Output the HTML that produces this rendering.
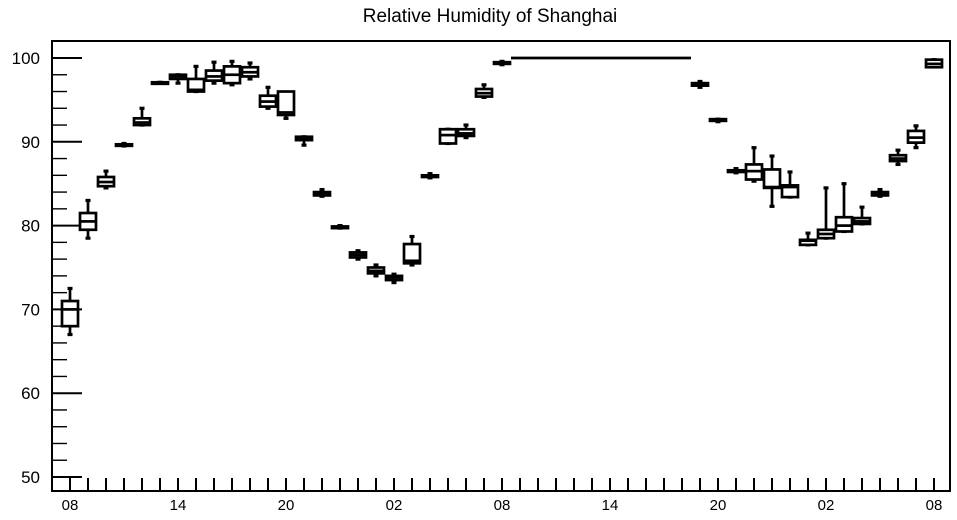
<!DOCTYPE html>
<html><head><meta charset="utf-8"><style>
html,body{margin:0;padding:0;background:#fff;width:957px;height:520px;overflow:hidden}
svg{display:block;font-family:"Liberation Sans",Arial,sans-serif}
</style></head><body>
<svg id="chart" width="957" height="520" viewBox="0 0 957 520">
<text x="490" y="22" font-size="19" text-anchor="middle">Relative Humidity of Shanghai</text>
<g id="axes"></g><g id="marks"></g>
<rect x="52" y="41" width="898" height="450" fill="none" stroke="#000" stroke-width="2"/>
</svg>
<script>
const hourLabels = ["08","14","20","02","08","14","20","02","08"];
const yTicks = [50,60,70,80,90,100];
const hours = [0,1,2,3,4,5,6,7,8,9,10,11,12,13,14,15,16,17,18,19,20,21,22,23,24,25,26,27,28,29,30,31,32,33,34,35,36,37,38,39,40,41,42,43,44,45,46,47,48];
const wLow  = [67,78.5,84.5,89.5,92,97,97,96,97,96.8,97.5,94,92.8,89.6,83.5,79.7,76,74,73.2,75.3,85.7,89.8,90.5,95.3,99.2,100,100,100,100,100,100,100,100,100,100,96.5,92.4,86.3,85.3,82.3,83.4,77.7,78.5,79.3,80.2,83.5,87.3,89.3,99];
const q1    = [68,79.5,84.7,89.55,92,97,97.5,96,97.3,97,97.8,94.2,93.2,90.2,83.6,79.7,76.2,74.3,73.5,75.5,85.8,89.8,90.7,95.4,99.3,100,100,100,100,100,100,100,100,100,100,96.7,92.5,86.4,85.5,84.5,83.4,77.7,78.5,79.3,80.2,83.6,87.7,89.9,98.9];
const med   = [70,80.5,85.2,89.6,92.3,97,97.8,96.2,97.8,98,98.3,94.8,93.5,90.4,83.8,79.8,76.5,74.6,73.8,75.8,85.9,90.8,91,95.8,99.4,100,100,100,100,100,100,100,100,100,100,96.8,92.6,86.5,86.5,84.6,84.6,78.2,79,80,80.5,83.8,88,90.5,99.3];
const q3    = [71,81.5,85.8,89.7,92.8,97.1,98,97.5,98.5,99,98.9,95.5,96,90.6,84,79.9,76.8,75,74,77.8,86,91.5,91.5,96.3,99.5,100,100,100,100,100,100,100,100,100,100,97,92.7,86.6,87.3,86.7,84.8,78.3,79.5,81,80.9,84,88.4,91.3,99.8];
const wHigh = [72.5,83,86.5,89.8,94,97.1,98,99,99.5,99.6,99.4,96.5,95.7,90.6,84.3,80,77,75.3,74.2,78.7,86.2,91.5,92,96.8,99.6,100,100,100,100,100,100,100,100,100,100,97.2,92.7,86.8,89.3,88.3,86.4,79.1,84.5,85,82.2,84.3,89,91.9,99.8];

const X0=70, XS=18, Y50=477, YS=8.38;
const xs = h => X0 + h*XS;
const ys = v => Y50 - (v-50)*YS;
const NS="http://www.w3.org/2000/svg";
function mk(parent,tag,attrs){const e=document.createElementNS(NS,tag);for(const k in attrs)e.setAttribute(k,attrs[k]);parent.appendChild(e);return e;}
const axes=document.getElementById('axes'), marks=document.getElementById('marks');

for(let v=50; v<=102; v+=2){
  const major = v%10===0;
  const t=mk(axes,'line',{x1:52,x2:major?82:67,y1:ys(v),y2:ys(v),stroke:'#000','stroke-width':major?2:1.4});
  
  
}
yTicks.forEach(v=>{
  const t=mk(axes,'text',{x:40,y:ys(v)+6,'font-size':17,'text-anchor':'end'});
  t.textContent=v;
  
  
});
for(let h=0; h<=48; h++){
  const t=mk(axes,'line',{x1:xs(h),x2:xs(h),y1:491,y2:478,stroke:'#000','stroke-width':2});
  
  
}
hourLabels.forEach((s,i)=>{
  const t=mk(axes,'text',{x:xs(i*6),y:510,'font-size':15,'text-anchor':'middle'});
  t.textContent=s;
  
  
});

hours.forEach((h,i)=>{
  const g=mk(marks,'g',{stroke:'#000','stroke-width':2.7,fill:'none'});
  
  
  const cx=xs(h), hw=8;
  if(wHigh[i]-wLow[i] < 0.05){
    mk(g,'line',{x1:cx-hw-1,x2:cx+hw+1,y1:ys(med[i]),y2:ys(med[i]),'stroke-width':2.8});
    return;
  }
  mk(g,'line',{x1:cx,x2:cx,y1:ys(wHigh[i]),y2:ys(q3[i])});
  mk(g,'line',{x1:cx,x2:cx,y1:ys(q1[i]),y2:ys(wLow[i])});
  mk(g,'line',{x1:cx-2.5,x2:cx+2.5,y1:ys(wHigh[i]),y2:ys(wHigh[i]),'stroke-width':3.2});
  mk(g,'line',{x1:cx-2.5,x2:cx+2.5,y1:ys(wLow[i]),y2:ys(wLow[i]),'stroke-width':3.2});
  const top=ys(q3[i]), bot=ys(q1[i]);
  mk(g,'rect',{x:cx-hw,y:top,width:hw*2,height:Math.max(bot-top,1.5),fill:'#fff'});
  mk(g,'line',{x1:cx-hw,x2:cx+hw,y1:ys(med[i]),y2:ys(med[i])});
});
</script>
</body></html>
